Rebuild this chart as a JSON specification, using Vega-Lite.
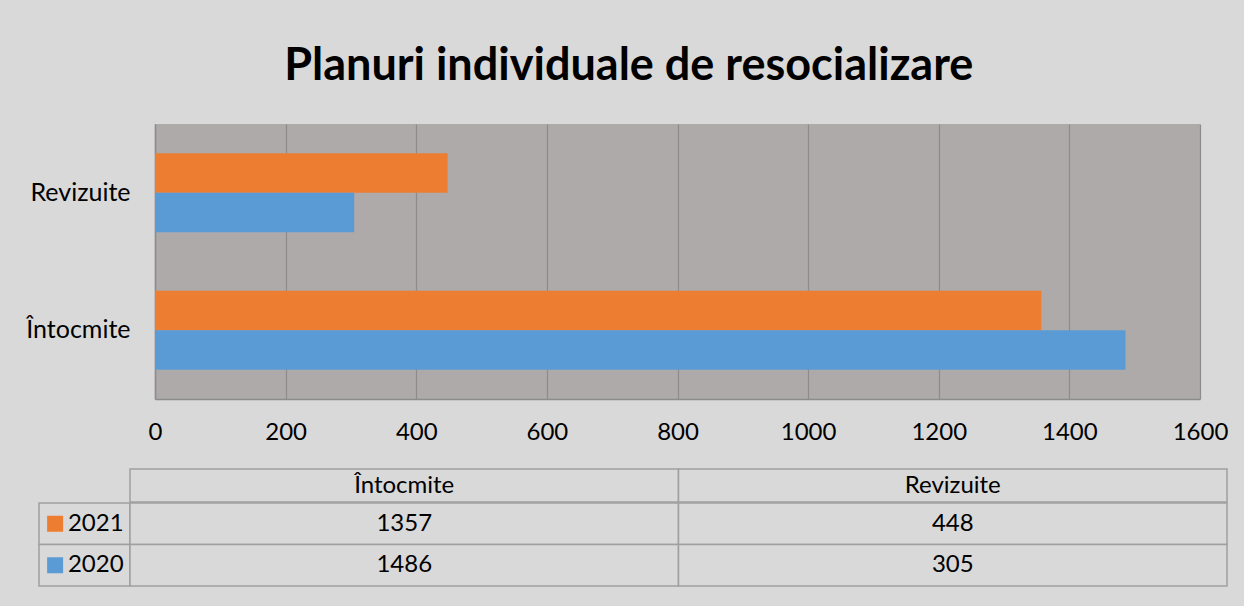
{
  "$schema": "https://vega.github.io/schema/vega-lite/v6.json",
  "background": "#D9D9D9",
  "padding": {"left": 25, "top": 44, "right": 16, "bottom": 22},
  "title": {"text": "Planuri individuale de resocializare", "font": "Lato", "fontSize": 45, "fontWeight": "bold", "color": "#000000", "anchor": "middle", "offset": 35, "dx": 2},
  "data": {"values": [
    {"category": "Întocmite", "year": "2021", "value": 1357},
    {"category": "Întocmite", "year": "2020", "value": 1486},
    {"category": "Revizuite", "year": "2021", "value": 448},
    {"category": "Revizuite", "year": "2020", "value": 305}
  ]},
  "config": {
    "font": "Lato",
    "view": {"stroke": null},
    "axis": {"labelFont": "Lato", "labelFontSize": 24, "labelColor": "#000000"}
  },
  "resolve": {"scale": {"x": "independent", "y": "independent"}},
  "spacing": 24,
  "vconcat": [
    {
      "spacing": 0,
      "bounds": "flush",
      "hconcat": [
        {
          "width": 116,
          "height": 275,
          "mark": {"type": "rect", "opacity": 0},
          "encoding": {}
        },
        {
          "width": 1045,
          "height": 275,
          "view": {"fill": "#AEAAAA", "stroke": null},
          "mark": {"type": "bar"},
          "encoding": {
            "y": {"field": "category", "type": "nominal", "sort": ["Revizuite", "Întocmite"],
                  "scale": {"paddingInner": 0.424, "paddingOuter": 0.212},
                  "axis": {"title": null, "labelPadding": 25, "labelFontSize": 25, "ticks": false, "domain": true, "domainColor": "#8C8C8C", "domainWidth": 1.5}},
            "yOffset": {"field": "year", "type": "nominal", "sort": ["2021", "2020"], "scale": {"paddingInner": 0, "paddingOuter": 0}},
            "x": {"field": "value", "type": "quantitative", "scale": {"domain": [0, 1600], "nice": false},
                  "axis": {"title": null, "format": "d", "values": [0, 200, 400, 600, 800, 1000, 1200, 1400, 1600], "grid": true, "gridColor": "#8C8C8C", "gridWidth": 1.2, "ticks": false, "labelPadding": 21, "domainColor": "#8C8C8C", "domainWidth": 1.5, "labelFlush": false}},
            "color": {"field": "year", "type": "nominal", "scale": {"domain": ["2021", "2020"], "range": ["#ED7D31", "#5B9BD5"]}, "legend": null}
          }
        }
      ]
    },
    {
      "spacing": -1.5,
      "vconcat": [
        {
          "spacing": 0,
          "bounds": "flush",
          "hconcat": [
            {
              "width": 91,
              "height": 33,
              "mark": {"type": "rect", "opacity": 0},
              "encoding": {}
            },
            {
              "width": 1097,
              "height": 33,
              "transform": [{"aggregate": [{"op": "count", "as": "n"}], "groupby": ["category"]}],
              "encoding": {
                "x": {"field": "category", "type": "nominal", "sort": ["Întocmite", "Revizuite"], "scale": {"paddingInner": 0, "paddingOuter": 0}, "axis": null}
              },
              "layer": [
                {"mark": {"type": "rect", "fill": "#D9D9D9", "stroke": "#A0A0A0", "strokeWidth": 1.5}},
                {"mark": {"type": "text", "fontSize": 24, "color": "#000000", "font": "Lato"},
                 "encoding": {"text": {"field": "category"}}}
              ]
            }
          ]
        },
        {
          "spacing": 0,
          "bounds": "flush",
          "hconcat": [
            {
              "width": 91,
              "height": 83,
              "transform": [{"aggregate": [{"op": "sum", "field": "value", "as": "total"}], "groupby": ["year"]}],
              "encoding": {
                "y": {"field": "year", "type": "nominal", "scale": {"domain": ["2021", "2020"], "paddingInner": 0, "paddingOuter": 0}, "axis": null}
              },
              "layer": [
                {"mark": {"type": "rect", "fill": "#D9D9D9", "stroke": "#A0A0A0", "strokeWidth": 1.5}},
                {"mark": {"type": "point", "shape": "square", "filled": true, "size": 256, "opacity": 1},
                 "encoding": {
                   "x": {"datum": "sym", "type": "nominal", "scale": {"type": "point", "domain": ["sym", "lab"], "padding": 0.62, "align": 0.32}, "axis": null},
                   "color": {"field": "year", "type": "nominal", "scale": {"domain": ["2021", "2020"], "range": ["#ED7D31", "#5B9BD5"]}, "legend": null}
                 }},
                {"mark": {"type": "text", "fontSize": 24, "color": "#000000", "font": "Lato"},
                 "encoding": {
                   "x": {"datum": "lab", "type": "nominal"},
                   "text": {"field": "year"}
                 }}
              ]
            },
            {
              "width": 1097,
              "height": 83,
              "encoding": {
                "x": {"field": "category", "type": "nominal", "sort": ["Întocmite", "Revizuite"], "scale": {"paddingInner": 0, "paddingOuter": 0}, "axis": null},
                "y": {"field": "year", "type": "nominal", "scale": {"domain": ["2021", "2020"], "paddingInner": 0, "paddingOuter": 0}, "axis": null}
              },
              "layer": [
                {"mark": {"type": "rect", "fill": "#D9D9D9", "stroke": "#A0A0A0", "strokeWidth": 1.5}},
                {"mark": {"type": "text", "fontSize": 24, "color": "#000000", "font": "Lato"},
                 "encoding": {"text": {"field": "value", "type": "quantitative"}}}
              ]
            }
          ]
        }
      ]
    }
  ]
}
